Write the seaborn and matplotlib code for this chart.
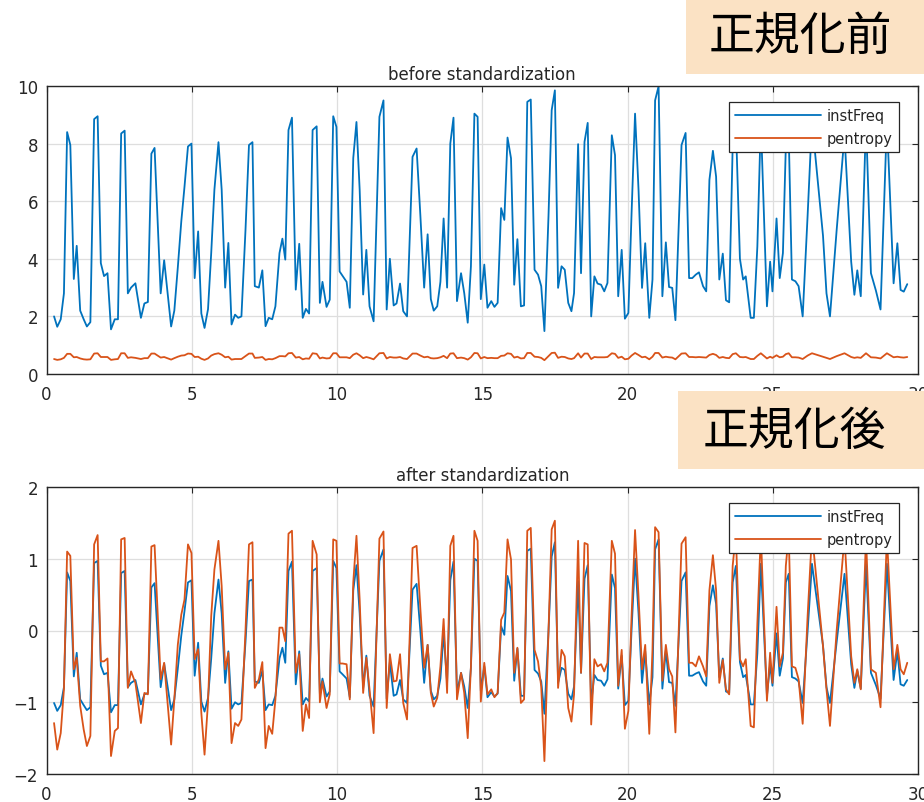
import matplotlib
matplotlib.use("Agg")
import seaborn as sns
from matplotlib import pyplot as plt
from matplotlib.patches import Rectangle

# time stamps (s) of the feature points
t = [0.26, 0.37, 0.49, 0.6, 0.71, 0.82, 0.94, 1.04, 1.16, 1.28, 1.39, 1.51, 1.64, 1.76, 1.87, 1.98, 2.1, 2.22, 2.35, 2.46,
     2.57, 2.69, 2.8, 2.91, 3.06, 3.25, 3.37, 3.49, 3.61, 3.72, 3.93, 4.05, 4.29, 4.4, 4.52, 4.64, 4.75, 4.87, 4.99, 5.1,
     5.22, 5.33, 5.44, 5.56, 5.67, 5.78, 5.92, 6.03, 6.15, 6.26, 6.37, 6.49, 6.6, 6.71, 6.85, 6.97, 7.09, 7.17, 7.31, 7.43,
     7.54, 7.65, 7.77, 7.88, 8.02, 8.12, 8.22, 8.33, 8.45, 8.58, 8.7, 8.82, 8.93, 9.04, 9.16, 9.3, 9.41, 9.5, 9.64, 9.75,
     9.87, 9.98, 10.09, 10.19, 10.33, 10.44, 10.56, 10.67, 10.78, 10.9, 11.01, 11.12, 11.26, 11.46, 11.6, 11.71, 11.82, 11.95, 12.05, 12.17,
     12.28, 12.41, 12.6, 12.74, 12.87, 13.0, 13.12, 13.23, 13.33, 13.45, 13.56, 13.67, 13.79, 13.9, 14.01, 14.13, 14.27, 14.38, 14.5, 14.61,
     14.73, 14.84, 14.95, 15.07, 15.18, 15.31, 15.42, 15.53, 15.65, 15.76, 15.87, 15.99, 16.1, 16.21, 16.33, 16.44, 16.55, 16.67, 16.8, 16.92,
     17.03, 17.14, 17.28, 17.39, 17.5, 17.61, 17.73, 17.84, 17.96, 18.07, 18.16, 18.3, 18.4, 18.52, 18.63, 18.75, 18.86, 18.97, 19.09, 19.2,
     19.31, 19.46, 19.57, 19.68, 19.8, 19.91, 20.03, 20.14, 20.26, 20.38, 20.5, 20.61, 20.75, 20.86, 20.95, 21.07, 21.2, 21.32, 21.43, 21.54,
     21.65, 21.86, 22.0, 22.12, 22.23, 22.35, 22.46, 22.6, 22.71, 22.82, 22.94, 23.05, 23.16, 23.28, 23.39, 23.5, 23.62, 23.73, 23.87, 23.98,
     24.07, 24.24, 24.35, 24.47, 24.59, 24.8, 24.91, 24.99, 25.13, 25.24, 25.35, 25.45, 25.55, 25.66, 25.78, 25.89, 26.03, 26.2, 26.35, 26.73,
     26.85, 26.97, 27.2, 27.47, 27.7, 27.81, 27.91, 28.03, 28.21, 28.38, 28.55, 28.71, 28.93, 29.16, 29.29, 29.4, 29.51, 29.63]

inst_freq = [2.0, 1.64, 1.9, 2.8, 8.4, 7.95, 3.3, 4.45, 2.2, 1.9, 1.65, 1.8, 8.85, 8.95, 3.85, 3.4, 3.5, 1.55, 1.9, 1.9,
             8.35, 8.45, 2.8, 3.0, 3.15, 1.95, 2.45, 2.5, 7.65, 7.85, 2.8, 3.95, 1.65, 2.2, 3.7, 5.3, 6.5, 7.9, 8.0, 3.33,
             4.95, 2.1, 1.6, 2.25, 4.2, 6.4, 8.05, 6.4, 3.0, 4.55, 1.72, 2.06, 1.95, 2.0, 5.0, 7.95, 8.05, 3.05, 3.0, 3.6,
             1.66, 1.95, 1.9, 2.35, 4.2, 4.7, 3.97, 8.47, 8.9, 2.93, 4.52, 1.95, 2.26, 2.1, 8.47, 8.6, 2.47, 3.2, 2.33, 2.58,
             8.95, 8.58, 3.56, 3.41, 3.2, 2.3, 7.5, 8.75, 6.4, 2.76, 4.31, 2.35, 1.83, 8.93, 9.5, 2.24, 4.0, 2.38, 2.45, 3.14,
             2.18, 2.0, 7.54, 7.83, 5.5, 3.0, 4.85, 2.6, 2.2, 2.35, 3.2, 5.4, 3.0, 8.0, 8.9, 2.53, 3.5, 2.81, 1.78, 3.74,
             9.04, 8.93, 2.6, 3.8, 2.3, 2.53, 2.33, 2.47, 5.76, 5.35, 8.21, 7.49, 3.1, 4.68, 2.35, 2.38, 9.45, 9.53, 3.62, 3.45,
             3.05, 1.49, 5.47, 9.16, 9.85, 2.99, 3.74, 3.62, 2.47, 2.18, 2.81, 7.98, 3.5, 8.06, 8.72, 2.0, 3.39, 3.14, 3.1, 2.87,
             3.16, 8.29, 7.6, 2.7, 4.31, 1.92, 2.12, 5.58, 9.04, 6.39, 2.99, 4.54, 1.95, 3.28, 9.5, 9.99, 2.7, 4.57, 3.02, 2.99,
             1.87, 7.95, 8.37, 3.33, 3.33, 3.45, 3.53, 3.05, 2.87, 6.74, 7.75, 6.85, 3.28, 4.18, 2.56, 2.49, 7.89, 8.7, 4.0, 3.28,
             3.39, 1.95, 1.95, 4.43, 8.8, 2.35, 3.9, 2.87, 5.4, 3.33, 4.2, 7.9, 8.3, 3.28, 3.22, 3.05, 2.0, 5.5, 8.8, 4.8,
             2.8, 2.0, 5.0, 8.3, 3.9, 2.75, 3.6, 2.7, 8.8, 3.5, 2.9, 2.24, 8.8, 3.15, 4.54, 2.92, 2.86, 3.12]

pentropy = [0.52, 0.49, 0.51, 0.56, 0.70, 0.70, 0.58, 0.59, 0.54, 0.51, 0.50, 0.51, 0.71, 0.72, 0.59, 0.59, 0.59, 0.49, 0.51, 0.52,
            0.72, 0.72, 0.56, 0.58, 0.56, 0.52, 0.55, 0.55, 0.71, 0.71, 0.57, 0.59, 0.50, 0.55, 0.60, 0.64, 0.65, 0.71, 0.70, 0.59,
            0.60, 0.53, 0.49, 0.54, 0.64, 0.69, 0.72, 0.67, 0.58, 0.60, 0.50, 0.52, 0.52, 0.52, 0.62, 0.71, 0.71, 0.56, 0.57, 0.59,
            0.49, 0.52, 0.51, 0.55, 0.62, 0.62, 0.61, 0.72, 0.73, 0.57, 0.59, 0.51, 0.54, 0.53, 0.72, 0.70, 0.54, 0.57, 0.54, 0.55,
            0.72, 0.72, 0.58, 0.58, 0.58, 0.55, 0.67, 0.72, 0.65, 0.55, 0.59, 0.56, 0.51, 0.72, 0.73, 0.54, 0.59, 0.57, 0.57, 0.59,
            0.54, 0.52, 0.71, 0.71, 0.64, 0.58, 0.60, 0.55, 0.54, 0.55, 0.58, 0.63, 0.55, 0.71, 0.72, 0.55, 0.57, 0.55, 0.50, 0.58,
            0.73, 0.72, 0.54, 0.59, 0.55, 0.56, 0.55, 0.55, 0.63, 0.64, 0.72, 0.70, 0.57, 0.60, 0.54, 0.55, 0.73, 0.73, 0.60, 0.59,
            0.56, 0.48, 0.62, 0.73, 0.74, 0.56, 0.60, 0.59, 0.54, 0.52, 0.55, 0.72, 0.57, 0.71, 0.71, 0.52, 0.59, 0.58, 0.58, 0.58,
            0.59, 0.72, 0.70, 0.56, 0.60, 0.51, 0.53, 0.64, 0.73, 0.66, 0.58, 0.60, 0.51, 0.60, 0.73, 0.73, 0.57, 0.60, 0.58, 0.57,
            0.51, 0.71, 0.72, 0.59, 0.59, 0.58, 0.59, 0.58, 0.57, 0.66, 0.70, 0.66, 0.56, 0.59, 0.56, 0.55, 0.69, 0.72, 0.59, 0.58,
            0.59, 0.52, 0.52, 0.63, 0.72, 0.54, 0.60, 0.56, 0.65, 0.58, 0.60, 0.69, 0.72, 0.58, 0.58, 0.57, 0.52, 0.64, 0.72, 0.60,
            0.56, 0.52, 0.62, 0.72, 0.59, 0.56, 0.58, 0.56, 0.72, 0.58, 0.57, 0.54, 0.72, 0.58, 0.60, 0.58, 0.57, 0.59]

inst_freq_std = [-1.01, -1.12, -1.04, -0.79, 0.81, 0.69, -0.64, -0.31, -0.96, -1.04, -1.11, -1.07, 0.94, 0.97, -0.49, -0.61, -0.59, -1.14, -1.04, -1.04,
                 0.8, 0.83, -0.79, -0.73, -0.69, -1.03, -0.89, -0.87, 0.6, 0.66, -0.79, -0.46, -1.11, -0.96, -0.53, -0.07, 0.27, 0.67, 0.7, -0.63,
                 -0.17, -0.99, -1.13, -0.94, -0.39, 0.24, 0.71, 0.24, -0.73, -0.29, -1.09, -1.0, -1.03, -1.01, -0.16, 0.69, 0.71, -0.71, -0.73, -0.56,
                 -1.11, -1.03, -1.04, -0.91, -0.39, -0.24, -0.45, 0.83, 0.96, -0.75, -0.29, -1.03, -0.94, -0.99, 0.83, 0.87, -0.88, -0.67, -0.92, -0.85,
                 0.97, 0.87, -0.57, -0.61, -0.67, -0.93, 0.56, 0.91, 0.24, -0.8, -0.35, -0.91, -1.06, 0.97, 1.13, -0.95, -0.44, -0.91, -0.89, -0.69,
                 -0.96, -1.01, 0.57, 0.65, -0.01, -0.73, -0.2, -0.84, -0.96, -0.91, -0.67, -0.04, -0.73, 0.7, 0.96, -0.86, -0.59, -0.78, -1.08, -0.52,
                 1.0, 0.97, -0.84, -0.5, -0.93, -0.86, -0.92, -0.88, 0.06, -0.06, 0.76, 0.55, -0.7, -0.25, -0.91, -0.91, 1.11, 1.14, -0.55, -0.6,
                 -0.71, -1.16, -0.02, 1.03, 1.23, -0.73, -0.52, -0.55, -0.88, -0.96, -0.78, 0.69, -0.59, 0.72, 0.91, -1.01, -0.62, -0.69, -0.7, -0.77,
                 -0.68, 0.78, 0.59, -0.81, -0.35, -1.04, -0.98, 0.01, 1.0, 0.24, -0.73, -0.29, -1.03, -0.65, 1.13, 1.27, -0.81, -0.28, -0.72, -0.73,
                 -1.05, 0.69, 0.81, -0.63, -0.63, -0.6, -0.58, -0.71, -0.77, 0.34, 0.63, 0.37, -0.65, -0.39, -0.85, -0.87, 0.67, 0.9, -0.44, -0.65,
                 -0.62, -1.03, -1.03, -0.32, 0.93, -0.91, -0.47, -0.77, -0.04, -0.63, -0.39, 0.67, 0.79, -0.65, -0.67, -0.71, -1.01, -0.01, 0.93, -0.21,
                 -0.79, -1.01, -0.16, 0.79, -0.47, -0.8, -0.56, -0.81, 0.93, -0.59, -0.76, -0.95, 0.93, -0.69, -0.29, -0.75, -0.77, -0.69]

pentropy_std = [-1.29, -1.66, -1.43, -0.82, 1.1, 1.04, -0.54, -0.38, -1.05, -1.38, -1.61, -1.47, 1.2, 1.33, -0.43, -0.43, -0.39, -1.75, -1.4, -1.36,
                1.27, 1.29, -0.8, -0.57, -0.73, -1.29, -0.87, -0.89, 1.17, 1.19, -0.68, -0.45, -1.59, -0.96, -0.2, 0.22, 0.43, 1.2, 1.08, -0.4,
                -0.26, -1.15, -1.73, -1.0, 0.2, 0.85, 1.25, 0.62, -0.54, -0.31, -1.57, -1.29, -1.33, -1.24, 0.0, 1.2, 1.23, -0.8, -0.68, -0.44,
                -1.64, -1.33, -1.44, -0.96, 0.04, 0.04, -0.15, 1.35, 1.39, -0.59, -0.33, -1.4, -1.03, -1.22, 1.25, 1.06, -1.0, -0.71, -1.08, -0.89,
                1.27, 1.25, -0.46, -0.46, -0.47, -0.96, 0.67, 1.32, 0.43, -0.87, -0.38, -0.82, -1.43, 1.28, 1.38, -1.08, -0.33, -0.71, -0.7, -0.33,
                -1.01, -1.24, 1.15, 1.18, 0.3, -0.52, -0.2, -0.87, -1.06, -0.94, -0.5, 0.16, -0.87, 1.18, 1.32, -0.96, -0.59, -0.87, -1.5, -0.5,
                1.39, 1.25, -0.99, -0.45, -0.89, -0.82, -0.93, -0.87, 0.15, 0.25, 1.27, 0.99, -0.59, -0.24, -1.01, -0.96, 1.39, 1.43, -0.27, -0.43,
                -0.78, -1.82, -0.03, 1.41, 1.53, -0.8, -0.27, -0.36, -1.08, -1.27, -0.89, 1.25, -0.59, 1.22, 1.2, -1.31, -0.4, -0.5, -0.47, -0.57,
                -0.45, 1.25, 1.07, -0.77, -0.27, -1.37, -1.12, 0.2, 1.4, 0.47, -0.54, -0.2, -1.44, -0.27, 1.44, 1.37, -0.7, -0.2, -0.54, -0.64,
                -1.42, 1.21, 1.3, -0.45, -0.45, -0.5, -0.36, -0.5, -0.64, 0.56, 1.05, 0.56, -0.73, -0.41, -0.82, -0.89, 0.9, 1.35, -0.4, -0.5,
                -0.4, -1.33, -1.35, 0.1, 1.35, -0.98, -0.31, -0.73, 0.33, -0.5, -0.31, 0.9, 1.35, -0.5, -0.52, -0.68, -1.3, 0.2, 1.35, -0.22,
                -0.82, -1.33, 0.0, 1.3, -0.36, -0.73, -0.54, -0.82, 1.3, -0.54, -0.59, -1.07, 1.3, -0.54, -0.2, -0.54, -0.61, -0.45]

series_names = ["instFreq", "pentropy"]
titles = ["before standardization", "after standardization"]
y_ticks = [[0, 2, 4, 6, 8, 10], [-2, -1, 0, 1, 2]]
x_ticks = [0, 5, 10, 15, 20, 25, 30]
badges = ["正規化前", "正規化後"]

blue = "#0072BD"
orange = "#D95319"
dark = "#262626"

sns.set_style("white")
plt.rcParams["font.family"] = ["DejaVu Sans"]

W, H = 924, 803
fig = plt.figure(figsize=(W / 100, H / 100), dpi=100)


def px_axes(x0, x1, y0, y1):
    return fig.add_axes([x0 / W, 1 - y1 / H, (x1 - x0) / W, (y1 - y0) / H])


ax1 = px_axes(46.5, 918, 87, 375)
ax2 = px_axes(46.5, 918, 488, 775)

panels = [(ax1, inst_freq, pentropy, (0, 10)), (ax2, inst_freq_std, pentropy_std, (-2, 2))]
for i, (ax, a, b, ylim) in enumerate(panels):
    sns.lineplot(x=t, y=a, ax=ax, color=blue, lw=1.3, label=series_names[0])
    sns.lineplot(x=t, y=b, ax=ax, color=orange, lw=1.3, label=series_names[1])
    ax.set_xlim(0, 30)
    ax.set_ylim(*ylim)
    ax.set_xticks(x_ticks)
    ax.set_yticks(y_ticks[i])
    ax.grid(True, color="#dedede", lw=0.9)
    ax.set_axisbelow(True)
    for s in ax.spines.values():
        s.set_color(dark)
        s.set_linewidth(1.0)
    ax.tick_params(direction="in", length=4, width=0.8, colors=dark, labelsize=12,
                   top=True, right=True, pad=6)
    ax.tick_params(axis="x", pad=8)
    ax.set_title(titles[i], fontsize=12, color=dark, pad=5)
    leg = ax.legend(loc="upper right", bbox_to_anchor=(0.978, 0.944), borderaxespad=0,
                    fontsize=10.5, handlelength=5.9, handletextpad=0.45, labelspacing=0.55,
                    borderpad=0.4, fancybox=False, framealpha=1, edgecolor=dark)
    leg.get_frame().set_linewidth(0.9)
    for txt in leg.get_texts():
        txt.set_color(dark)

# peach captions over the figure
boxes = [(686, 0, 924, 75, 800, 37), (678, 392, 924, 470, 794, 432)]
for (x0, y0, x1, y1, cx, cy), label in zip(boxes, badges):
    fig.add_artist(Rectangle((x0 / W, 1 - y1 / H), (x1 - x0) / W, (y1 - y0) / H,
                             transform=fig.transFigure, facecolor="#FBE2C4",
                             edgecolor="none", zorder=5))
    fig.text(cx / W, 1 - cy / H, label, family=["Noto Sans CJK JP", "DejaVu Sans"],
             fontsize=33, ha="center", va="center", color="black", zorder=6)

fig.savefig("out.png", dpi=100)
